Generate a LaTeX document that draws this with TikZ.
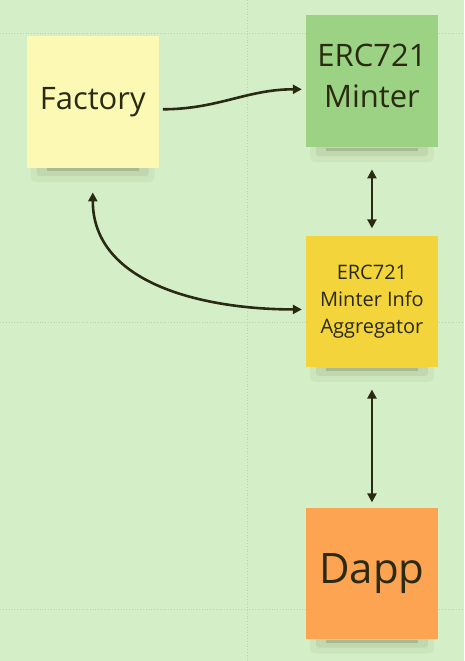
\documentclass[tikz,border=0pt]{standalone}
\usepackage{fontspec}
\setmainfont{Open Sans}
\usetikzlibrary{arrows.meta,positioning}

\definecolor{boardbg}{RGB}{212,239,199}
\definecolor{gridc}{RGB}{183,212,170}
\definecolor{ink}{RGB}{42,42,18}
\definecolor{shadowc}{RGB}{110,120,80}
\definecolor{factoryc}{RGB}{252,249,181}
\definecolor{minterc}{RGB}{155,210,131}
\definecolor{aggrc}{RGB}{243,212,59}
\definecolor{dappc}{RGB}{252,164,81}

\begin{document}
\begin{tikzpicture}[
        x=1pt, y=-1pt,
        node distance=88pt,
        note/.style={rectangle, inner sep=0pt, minimum width=132pt, minimum height=132pt, align=center, text=ink},
        gridline/.style={gridc, line width=0.8pt, dotted},
        link/.style={ink, line width=2.6pt, -{Triangle[length=9pt,width=9pt]}},
        twoway/.style={link, {Triangle[length=9pt,width=9pt]}-{Triangle[length=9pt,width=9pt]}}
    ]

    % Board
    \fill[boardbg] (0,0) rectangle (464,661);
    \draw[gridline] (247,0) -- (247,661);
    \foreach \y in {33,322,610}
        \draw[gridline] (0,\y) -- (464,\y);

    % Shadows
    \foreach \x/\y in {92.5/168, 372/148, 372/368, 372/640} {
        \fill[shadowc, opacity=.08, rounded corners=5pt] (\x-62,\y-4) rectangle (\x+62,\y+14);
        \fill[shadowc, opacity=.12, rounded corners=3pt] (\x-56,\y-4) rectangle (\x+56,\y+8);
        \fill[shadowc, opacity=.3] (\x-46,\y) rectangle (\x+46,\y+3);
    }

    % Nodes
    \node[note, fill=factoryc, font=\fontsize{31}{42}\selectfont] (factory) at (92.5,102) {Factory};
    \node[note, fill=minterc, font=\fontsize{31}{42}\selectfont, text depth=11pt] (minter) at (372,81) {ERC721\\Minter};
    \node[note, fill=aggrc, font=\fontsize{20}{27}\selectfont] (aggregator) [below=of minter] {ERC721\\Minter Info\\Aggregator};
    \node[note, fill=dappc, font=\fontsize{42}{50}\selectfont] (dapp) [below=140pt of aggregator] {Dapp};

    % Edges
    \draw[link] ([xshift=4pt,yshift=-7pt]factory.east) to[out=0,in=180] ([xshift=-4pt,yshift=-8pt]minter.west);
    \draw[twoway] ([yshift=-24pt]factory.south) to[out=-90,in=180] ([xshift=-4pt,yshift=-8pt]aggregator.west);
    \draw[twoway] ([yshift=-22pt]minter.south) -- ([yshift=7pt]aggregator.north);
    \draw[twoway] ([yshift=-22pt]aggregator.south) -- ([yshift=5pt]dapp.north);

\end{tikzpicture}
\end{document}
